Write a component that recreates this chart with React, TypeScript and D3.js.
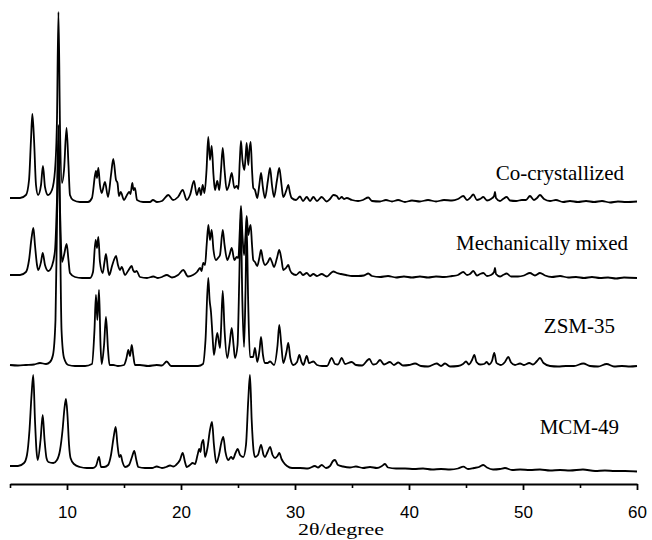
import React, { useRef, useEffect } from "react";
import * as d3 from "d3";

const dims = { width: 652, height: 540 };

// [2θ (degree), intensity (a.u.)]
const coCrystallized: [number, number][] = [
    [5.0, 6], [5.88, 6], [6.4, 9], [6.67, 24], [6.84, 64], [6.96, 90], [7.11, 64], [7.28, 19], [7.46, 9],
    [7.72, 19], [7.89, 38], [8.07, 17], [8.33, 9], [8.68, 14], [8.95, 34], [9.12, 84], [9.25, 192],
    [9.39, 74], [9.56, 21], [9.74, 34], [9.96, 76], [10.13, 39], [10.26, 9], [10.53, 4], [11.14, 2],
    [11.84, 2], [12.19, 6], [12.46, 29], [12.54, 33], [12.63, 26], [12.75, 36], [12.89, 19], [13.04, 11],
    [13.33, 22], [13.6, 7], [13.86, 29], [14.06, 45], [14.3, 24], [14.43, 21], [14.56, 8], [14.71, 12],
    [15.0, 4], [15.26, 9], [15.46, 12], [15.57, 10], [15.73, 21], [15.83, 14], [15.96, 16], [16.14, 4],
    [16.67, 2], [17.28, 2], [17.54, 4], [17.89, 2], [18.33, 3], [18.89, 9], [19.3, 4], [19.74, 7],
    [20.15, 14], [20.5, 4], [20.79, 9], [21.14, 23], [21.38, 9], [21.61, 16], [21.75, 9], [21.9, 19],
    [22.06, 11], [22.24, 34], [22.39, 67], [22.54, 44], [22.69, 58], [22.85, 29], [22.98, 14], [23.18, 23],
    [23.36, 14], [23.51, 34], [23.66, 56], [23.82, 34], [24.01, 14], [24.21, 19], [24.45, 31], [24.68, 16],
    [24.89, 18], [25.03, 15], [25.16, 44], [25.26, 63], [25.39, 44], [25.55, 34], [25.66, 46], [25.76, 61],
    [25.9, 39], [26.0, 54], [26.11, 62], [26.23, 34], [26.34, 16], [26.49, 14], [26.69, 6], [26.87, 19],
    [27.02, 31], [27.19, 16], [27.37, 6], [27.63, 24], [27.81, 36], [27.98, 19], [28.16, 7], [28.42, 24],
    [28.62, 36], [28.82, 19], [28.97, 7], [29.25, 14], [29.41, 19], [29.56, 11], [29.71, 6], [30.09, 4],
    [30.44, 7.5], [30.7, 3], [31.03, 7], [31.32, 3], [31.61, 7], [31.93, 3], [32.34, 7], [32.78, 2.5],
    [33.07, 5], [33.36, 9], [33.66, 8], [33.86, 5], [34.1, 7], [34.3, 5], [34.54, 6], [35.0, 4],
    [35.53, 3], [35.96, 4], [36.43, 6.5], [36.75, 3], [37.46, 2.5], [37.98, 4], [38.51, 2.5], [39.04, 4],
    [39.65, 2], [40.26, 3.5], [40.96, 2.5], [41.67, 4], [42.37, 2.5], [43.07, 4], [43.77, 3.5], [44.3, 5],
    [44.76, 8], [45.09, 4], [45.35, 6], [45.64, 9.5], [45.96, 4], [46.23, 5], [46.52, 7], [46.84, 3.5],
    [47.19, 5], [47.46, 8], [47.54, 12], [47.63, 6], [47.98, 3], [48.25, 5], [48.57, 7], [48.86, 3.5],
    [49.39, 3], [49.91, 4], [50.26, 4], [50.61, 8], [50.96, 4], [51.23, 6], [51.49, 9], [51.84, 5],
    [52.37, 3], [52.89, 4], [53.51, 2], [54.12, 3], [54.82, 2], [55.53, 3], [56.23, 2], [56.93, 3],
    [57.63, 1.5], [58.33, 2.5], [59.04, 2], [60.0, 2.5],
];

const mechanicallyMixed: [number, number][] = [
    [5.0, 5], [5.88, 5], [6.4, 8], [6.67, 20], [6.89, 42], [7.05, 52], [7.19, 35], [7.37, 15], [7.48, 10],
    [7.72, 18], [7.87, 27], [8.07, 15], [8.36, 9], [8.68, 14], [8.95, 30], [9.12, 80], [9.25, 140],
    [9.39, 70], [9.56, 18], [9.74, 25], [9.97, 36], [10.13, 20], [10.26, 7], [10.7, 3], [11.32, 2],
    [12.02, 2], [12.28, 8], [12.51, 40], [12.63, 32], [12.75, 43], [12.89, 18], [13.13, 7], [13.29, 18],
    [13.42, 26], [13.6, 10], [13.71, 5], [13.95, 14], [14.12, 20], [14.3, 24], [14.47, 15], [14.65, 10],
    [14.8, 13], [15.09, 5], [15.35, 9], [15.68, 14], [15.79, 10], [15.96, 8], [16.11, 9], [16.4, 3],
    [17.02, 2], [17.57, 3.5], [17.98, 2], [18.33, 3], [18.75, 5], [19.21, 2.5], [19.74, 5], [20.2, 10],
    [20.61, 3.5], [21.05, 5], [21.4, 8], [21.67, 12], [21.8, 9], [21.95, 17], [22.11, 15], [22.25, 35],
    [22.4, 55], [22.54, 40], [22.69, 50], [22.85, 30], [23.07, 20], [23.25, 22], [23.42, 25], [23.66, 50],
    [23.82, 35], [24.06, 20], [24.25, 25], [24.45, 32], [24.68, 20], [24.89, 23], [25.03, 22], [25.16, 50],
    [25.26, 74], [25.39, 45], [25.53, 25], [25.66, 45], [25.76, 64], [25.9, 45], [26.02, 52], [26.11, 55],
    [26.23, 35], [26.34, 20], [26.49, 18], [26.69, 14], [26.87, 22], [27.02, 30], [27.19, 20], [27.37, 15],
    [27.63, 18], [27.81, 22], [27.98, 18], [28.16, 13], [28.42, 22], [28.62, 30], [28.82, 20], [28.97, 10],
    [29.21, 12], [29.41, 15], [29.56, 10], [29.71, 7], [30.09, 5], [30.44, 8], [30.7, 5], [31.03, 7],
    [31.32, 4], [31.61, 6], [31.93, 4], [32.34, 6], [32.78, 3.5], [33.07, 6], [33.36, 8.5], [33.68, 7],
    [34.04, 6], [34.47, 5], [35.0, 4], [35.53, 4], [36.05, 4.5], [36.43, 6.5], [36.75, 4], [37.46, 3],
    [38.16, 4], [38.86, 2.5], [39.56, 3.5], [40.26, 2.5], [40.96, 3.5], [41.67, 2.5], [42.37, 3.5],
    [43.07, 3], [43.77, 4], [44.3, 5], [44.76, 8], [45.09, 5], [45.35, 6], [45.64, 9], [45.96, 4.5],
    [46.23, 6], [46.52, 7], [46.84, 4], [47.19, 5], [47.46, 8], [47.54, 12], [47.63, 6], [47.98, 3.5],
    [48.25, 5], [48.57, 6.5], [48.95, 3.5], [49.56, 3.5], [50.09, 4.5], [50.61, 7], [51.05, 4.5],
    [51.49, 7], [51.93, 4.5], [52.54, 3], [53.25, 4], [53.95, 2.5], [54.65, 3], [55.35, 2], [56.05, 3],
    [56.75, 2], [57.46, 2.5], [58.16, 1.5], [58.86, 2.5], [60.0, 2],
];

const zsm35: [number, number][] = [
    [5.0, 3], [5.7, 2.5], [6.4, 3], [7.11, 3.5], [7.63, 5], [8.16, 4], [8.51, 6], [8.77, 13], [8.99, 48],
    [9.15, 168], [9.25, 243], [9.36, 168], [9.52, 38], [9.74, 10], [10.11, 3], [10.7, 2], [11.58, 2],
    [12.19, 4], [12.41, 38], [12.54, 73], [12.66, 48], [12.81, 78], [12.94, 23], [13.04, 4], [13.25, 23],
    [13.42, 51], [13.6, 18], [13.73, 3], [14.06, 3], [14.47, 2], [15.0, 3], [15.22, 10], [15.38, 18],
    [15.53, 12], [15.68, 23], [15.82, 12], [15.96, 3], [16.4, 3], [17.11, 2], [17.87, 3], [18.33, 2.5],
    [18.75, 6.5], [19.12, 2], [19.91, 2], [20.79, 2], [21.49, 2], [21.93, 4], [22.15, 28], [22.39, 90],
    [22.51, 68], [22.63, 56], [22.76, 33], [22.89, 13], [23.18, 35], [23.42, 20], [23.51, 38], [23.66, 77],
    [23.82, 38], [24.06, 10], [24.25, 23], [24.45, 40], [24.61, 23], [24.74, 10], [24.96, 23], [25.11, 88],
    [25.24, 153], [25.38, 68], [25.53, 21], [25.66, 78], [25.76, 143], [25.89, 68], [26.05, 11],
    [26.32, 11], [26.49, 20], [26.69, 6], [26.89, 18], [27.02, 31], [27.19, 13], [27.37, 5], [27.59, 5],
    [27.81, 6.5], [28.16, 3], [28.47, 23], [28.62, 43], [28.8, 23], [28.97, 5], [29.25, 16], [29.41, 25],
    [29.59, 10], [29.85, 3], [30.18, 6], [30.38, 13], [30.57, 6], [30.73, 3], [31.03, 12], [31.23, 5],
    [31.61, 6.5], [31.93, 3], [32.37, 2], [32.81, 2], [33.22, 10], [33.51, 4], [33.77, 3.5], [34.1, 10],
    [34.39, 4], [34.97, 6], [35.35, 3], [35.88, 2.5], [36.52, 9], [36.84, 3.5], [37.11, 4], [37.46, 8],
    [37.81, 3.5], [38.33, 6], [38.68, 3], [39.06, 5.5], [39.47, 2.5], [40.0, 3], [40.53, 4.5], [41.05, 2],
    [41.67, 1.5], [42.43, 4.5], [42.81, 2], [43.16, 4.5], [43.6, 1.5], [44.3, 2], [44.74, 4], [45.0, 6.5],
    [45.26, 3.5], [45.53, 8], [45.73, 13], [45.92, 6], [46.23, 3.5], [46.58, 4], [46.82, 6], [47.02, 3.5],
    [47.28, 7], [47.48, 15], [47.68, 5], [47.83, 4], [48.07, 3], [48.42, 6], [48.71, 11], [48.95, 5.5],
    [49.3, 3], [49.74, 4.5], [50.09, 3], [50.55, 5], [50.88, 3.5], [51.23, 7], [51.49, 10], [51.8, 5],
    [52.37, 2], [53.07, 1.5], [53.77, 2], [54.47, 2], [55.29, 4.5], [55.88, 2], [56.58, 1.5], [57.34, 4],
    [57.98, 1.5], [58.68, 2], [59.39, 1.5], [60.0, 2],
];

const mcm49: [number, number][] = [
    [5.0, 6], [5.7, 6], [6.23, 9], [6.49, 17], [6.71, 42], [6.89, 77], [7.04, 97], [7.19, 52], [7.32, 22],
    [7.43, 12], [7.68, 32], [7.87, 57], [8.03, 32], [8.2, 14], [8.36, 10], [8.8, 9], [9.12, 12], [9.39, 22],
    [9.61, 42], [9.78, 64], [9.91, 73], [10.04, 57], [10.18, 27], [10.31, 14], [10.61, 8], [11.14, 5],
    [11.73, 4], [12.28, 4], [12.54, 6], [12.81, 15], [12.98, 5], [13.25, 5], [13.6, 7], [13.86, 17],
    [14.08, 34], [14.27, 45], [14.43, 27], [14.59, 15], [14.71, 17], [14.87, 10], [15.09, 5], [15.44, 7],
    [15.7, 15], [15.9, 21], [16.08, 12], [16.25, 5], [16.84, 4], [17.46, 4], [17.87, 5.5], [18.33, 4],
    [18.68, 5], [19.04, 6.5], [19.33, 5.5], [19.56, 7], [19.91, 12], [20.15, 19], [20.35, 10], [20.5, 5],
    [20.79, 7], [21.02, 9], [21.23, 8], [21.45, 17], [21.6, 23], [21.71, 20], [21.81, 28], [21.96, 32],
    [22.11, 15], [22.32, 24], [22.54, 42], [22.72, 50], [22.89, 27], [23.1, 9], [23.33, 17], [23.55, 30],
    [23.71, 35], [23.9, 20], [24.15, 12], [24.39, 15], [24.56, 13], [24.78, 19], [24.97, 23], [25.18, 17],
    [25.46, 15], [25.7, 27], [25.9, 72], [26.05, 97], [26.2, 52], [26.36, 22], [26.49, 15], [26.75, 17],
    [27.02, 27], [27.24, 17], [27.37, 15], [27.59, 20], [27.81, 25], [28.03, 17], [28.25, 14], [28.46, 16],
    [28.62, 19], [28.82, 13], [28.97, 10], [29.3, 6], [29.74, 4], [30.44, 4], [31.14, 3.5], [31.75, 6],
    [32.02, 4.5], [32.34, 7], [32.72, 4], [33.07, 6], [33.33, 11], [33.51, 12], [33.77, 7], [34.21, 5.5],
    [34.82, 4.5], [35.35, 5.5], [35.96, 4], [36.58, 5], [37.19, 4], [37.63, 6], [37.89, 8], [38.16, 4.5],
    [38.86, 3.5], [39.65, 3.5], [40.44, 3], [41.23, 3.5], [42.02, 2.5], [42.81, 3], [43.6, 2.5],
    [44.3, 3.5], [44.77, 5.3], [45.18, 3], [45.7, 4], [46.14, 5], [46.52, 7], [46.84, 4.5], [47.37, 2.5],
    [47.98, 3], [48.42, 4], [49.04, 2], [49.74, 2.5], [50.61, 2], [51.49, 2.5], [52.37, 1.5], [53.25, 2],
    [54.12, 1.5], [55.26, 2.5], [56.32, 1], [57.19, 1.5], [58.07, 1], [58.95, 1], [60.0, 0.5],
];

const traces = [coCrystallized, mechanicallyMixed, zsm35, mcm49];
const traceNames = ["Co-crystallized", "Mechanically mixed", "ZSM-35", "MCM-49"];
const traceOffsets = [280, 204, 116, 12];
const majorTicks = [10, 20, 30, 40, 50, 60];
const minorTicks = [5, 15, 25, 35, 45, 55];

// label anchors (right edge, baseline)
const labelPos = [
    { x: 624, y: 180 },
    { x: 628, y: 250 },
    { x: 615, y: 333 },
    { x: 619, y: 434 },
];

const x = d3.scaleLinear().domain([5, 60]).range([10, 637]);
const y = d3.scaleLinear().domain([0, 480]).range([484, 4]);

const App = () => {
    const xAxisGroup = useRef(null);
    const minorGroup = useRef(null);

    useEffect(() => {
        const xAxis = d3
            .axisBottom(x)
            .tickValues(majorTicks)
            .tickSize(6)
            .tickSizeOuter(0)
            .tickPadding(16)
            .tickFormat(d3.format("d"));
        const g = d3.select(xAxisGroup.current);
        g.call(xAxis);
        g.select(".domain").attr("stroke", "#000").attr("stroke-width", 2);
        g.selectAll(".tick line").attr("stroke", "#000").attr("stroke-width", 1.8);
        g.selectAll(".tick text")
            .attr("fill", "#000")
            .attr("font-size", 17)
            .attr("font-family", "'Liberation Sans', Arial, sans-serif");

        const minor = d3
            .axisBottom(x)
            .tickValues(minorTicks)
            .tickSize(4)
            .tickSizeOuter(0)
            .tickFormat(() => "");
        const m = d3.select(minorGroup.current);
        m.call(minor);
        m.select(".domain").remove();
        m.selectAll(".tick line").attr("stroke", "#000").attr("stroke-width", 1.6);
    }, []);

    const line = (offset) =>
        d3
            .line()
            .x((d) => x(d[0]))
            .y((d) => y(d[1] + offset))
            .curve(d3.curveMonotoneX);

    return (
        <svg width={dims.width} height={dims.height} style={{ display: "block", position: "absolute", left: 0, top: 0 }}>
            <rect width={dims.width} height={dims.height} fill="#fff" />
            {traces.map((t, i) => (
                <path
                    key={traceNames[i]}
                    d={line(traceOffsets[i])(t)}
                    fill="none"
                    stroke="#000"
                    strokeWidth={1.8}
                    strokeLinejoin="round"
                />
            ))}
            {traceNames.map((name, i) => (
                <text
                    key={name}
                    x={labelPos[i].x}
                    y={labelPos[i].y}
                    textAnchor="end"
                    fontSize={21}
                    fontFamily="'Liberation Serif', 'Times New Roman', serif"
                    fill="#000"
                >
                    {name}
                </text>
            ))}
            <g ref={xAxisGroup} transform={`translate(0,${y(0)})`} />
            <g ref={minorGroup} transform={`translate(0,${y(0)})`} />
            <text
                x={341}
                y={535}
                textAnchor="middle"
                fontSize={17}
                textLength={86}
                lengthAdjust="spacingAndGlyphs"
                fontFamily="'Liberation Serif', 'Times New Roman', serif"
                fill="#000"
            >
                2θ/degree
            </text>
        </svg>
    );
};

export default App;
